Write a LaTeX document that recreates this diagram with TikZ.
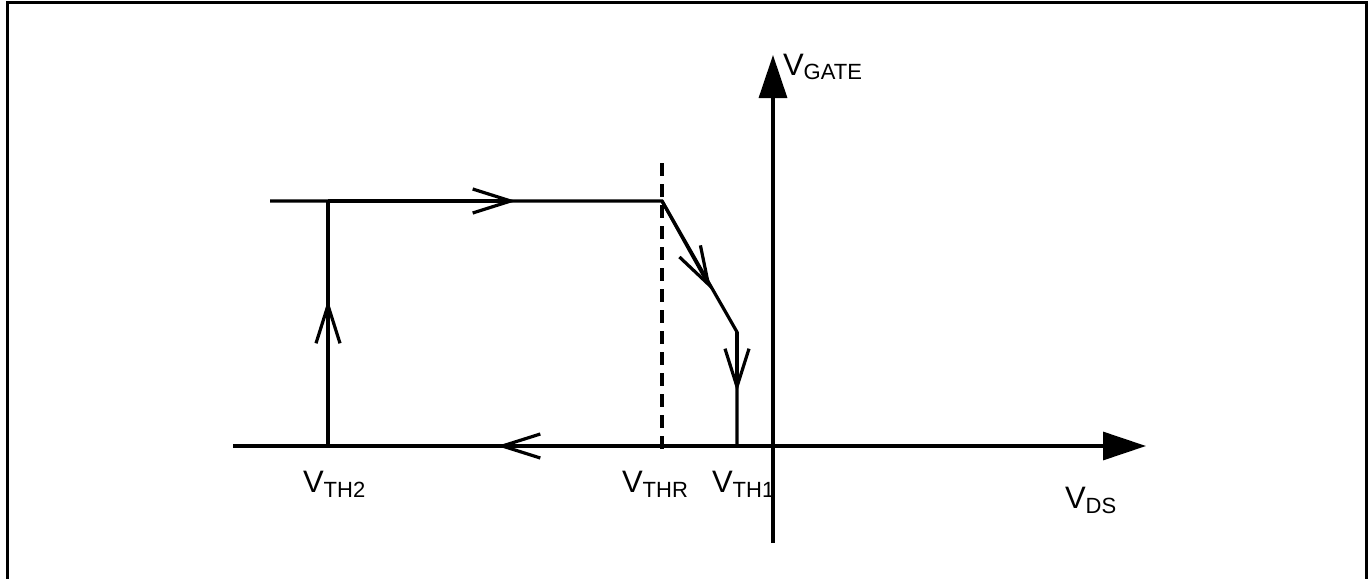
\documentclass[tikz,border=0pt]{standalone}
\usepackage{fontspec}
\setmainfont{Liberation Sans}
\usetikzlibrary{arrows.meta}
\newcommand\vlab[1]{{\fontsize{31}{31}\selectfont V}{\fontsize{22}{22}\selectfont\raisebox{-5pt}{#1}}}
\begin{document}
\begin{tikzpicture}[x=1pt,y=-1pt,
  ln/.style={line width=3.2pt},
  axis/.style={ln,-{Triangle[length=43pt,width=28pt]}},
  barb/.style={ln,-{Straight Barb[length=38pt,width=24pt,line width=3.2pt]}},
  lab/.style={anchor=base west,inner sep=0pt,outer sep=0pt}]
\useasboundingbox (0,0) rectangle (1370,578);
\draw[line width=3pt] (7,600) -- (7,3) -- (1366,3) -- (1366,600);
% coordinates
\coordinate (xl) at (233,446);
\coordinate (xr) at (1146,446);
\coordinate (yb) at (773,543);
\coordinate (yt) at (773,55);
\coordinate (tl) at (270,201);
\coordinate (tc) at (328,201);
\coordinate (tr) at (662,201);
\coordinate (ta) at (516,201);
\coordinate (bl) at (328,446);
\coordinate (la) at (328,300);
\coordinate (dt) at (662,163);
\coordinate (db) at (662,450);
\coordinate (k) at (737,332);
\coordinate (da) at (711,289);
\coordinate (va) at (737,392);
\coordinate (vb) at (737,446);
\coordinate (ba) at (497,446);
% axes
\draw[axis] (xl) -- (xr);
\draw[axis] (yb) -- (yt);
% loop lines
\draw[ln] (tl) -- (tr) -- (k) -- (vb);
\draw[ln] (bl) -- (tc);
% mid arrowheads
\draw[barb] (tc) -- (ta);
\draw[barb] (bl) -- (la);
\draw[barb] (tr) -- (da);
\draw[barb] (k) -- (va);
\draw[barb] (vb) -- (ba);
\draw[ln,dash pattern=on 13pt off 8pt] (dt) -- (db);
% labels
\node[lab] (l2) at (303,492) {\vlab{TH2}};
\node[lab] (lr) at (622,492) {\vlab{THR}};
\node[lab] (l1) at (712,492) {\vlab{TH1}};
\node[lab] (lds) at (1065,508) {\vlab{DS}};
\node[lab] (lg) at (783,75) {\vlab{GATE}};
\end{tikzpicture}
\end{document}
